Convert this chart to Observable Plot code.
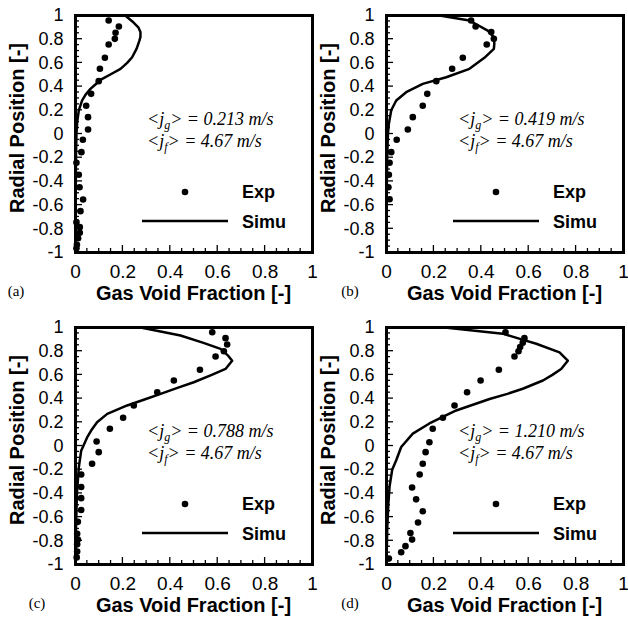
<!DOCTYPE html>
<html>
<head>
<meta charset="utf-8">
<script src="https://cdn.jsdelivr.net/npm/d3@7"></script>
<script src="https://cdn.jsdelivr.net/npm/@observablehq/plot@0.6"></script>
<style>
  html, body { margin: 0; padding: 0; background: #fff; }
  #fig { position: relative; width: 628px; height: 621px; background: #fff; overflow: hidden; }
  #fig > div { position: absolute; }
  #fig svg { background: transparent !important; overflow: visible; }
</style>
</head>
<body>
<div id="fig"></div>
<script>
// ---------- tick labels ----------
const xTickValues = [0, 0.2, 0.4, 0.6, 0.8, 1];
const xTickLabels = ["0", "0.2", "0.4", "0.6", "0.8", "1"];
const yTickValues = [-1, -0.8, -0.6, -0.4, -0.2, 0, 0.2, 0.4, 0.6, 0.8, 1];
const yTickLabels = ["-1", "-0.8", "-0.6", "-0.4", "-0.2", "0", "0.2", "0.4", "0.6", "0.8", "1"];

// ---------- panel meta ----------
const panelLetters = ["(a)", "(b)", "(c)", "(d)"];
const jgValues = ["0.213", "0.419", "0.788", "1.210"];
const jfValues = ["4.67", "4.67", "4.67", "4.67"];

// ---------- (a) ----------
const aExpY = [0.958, 0.907, 0.854, 0.803, 0.755, 0.643, 0.55, 0.446, 0.339, 0.238, 0.142, 0.038, -0.049, -0.153, -0.243, -0.344, -0.449, -0.553, -0.651, -0.744, -0.786, -0.833, -0.88, -0.935, -0.965];
const aExpX = [0.14, 0.183, 0.169, 0.166, 0.14, 0.124, 0.103, 0.098, 0.066, 0.045, 0.053, 0.053, 0.031, 0.025, 0.004, 0.014, 0.017, 0.032, 0.021, 0.004, 0.018, 0.018, 0.011, 0.006, 0.004];
const aSimY = [1.0, 0.95, 0.9, 0.86, 0.82, 0.79, 0.72, 0.648, 0.6, 0.55, 0.5, 0.466, 0.42, 0.381, 0.33, 0.283, 0.2, 0.1, 0.0, -0.2, -0.5, -1.0];
const aSimX = [0.21, 0.24, 0.265, 0.274, 0.274, 0.27, 0.258, 0.239, 0.218, 0.19, 0.145, 0.113, 0.085, 0.063, 0.042, 0.028, 0.014, 0.007, 0.004, 0.002, 0.001, 0.0];

// ---------- (b) ----------
const bExpY = [0.958, 0.907, 0.86, 0.803, 0.755, 0.643, 0.55, 0.446, 0.339, 0.238, 0.142, 0.038, -0.049, -0.153, -0.243, -0.344, -0.449, -0.55];
const bExpX = [0.357, 0.376, 0.442, 0.453, 0.423, 0.322, 0.277, 0.21, 0.172, 0.153, 0.111, 0.09, 0.043, 0.02, 0.013, 0.01, 0.008, 0.013];
const bSimY = [1.0, 0.958, 0.873, 0.817, 0.76, 0.719, 0.643, 0.55, 0.479, 0.423, 0.353, 0.283, 0.2, 0.086, 0.0, -0.2, -0.5, -1.0];
const bSimX = [0.224, 0.35, 0.427, 0.453, 0.455, 0.453, 0.413, 0.35, 0.252, 0.153, 0.083, 0.041, 0.02, 0.01, 0.006, 0.003, 0.001, 0.0];

// ---------- (c) ----------
const cExpY = [0.96, 0.91, 0.857, 0.8, 0.755, 0.643, 0.553, 0.454, 0.342, 0.238, 0.145, 0.038, -0.052, -0.15, -0.24, -0.346, -0.44, -0.54, -0.64, -0.74, -0.79, -0.83, -0.89, -0.94];
const cExpX = [0.577, 0.633, 0.64, 0.626, 0.591, 0.525, 0.415, 0.345, 0.246, 0.201, 0.145, 0.089, 0.098, 0.07, 0.024, 0.024, 0.024, 0.024, 0.01, 0.007, 0.01, 0.007, 0.007, 0.005];
const cSimY = [1.0, 0.932, 0.87, 0.82, 0.76, 0.72, 0.65, 0.6, 0.538, 0.49, 0.44, 0.39, 0.342, 0.271, 0.2, 0.13, 0.072, -0.04, -0.18, -0.4, -0.7, -1.0];
const cSimX = [0.275, 0.443, 0.54, 0.612, 0.645, 0.661, 0.633, 0.575, 0.499, 0.43, 0.359, 0.288, 0.218, 0.134, 0.091, 0.066, 0.049, 0.024, 0.014, 0.006, 0.002, 0.0];

// ---------- (d) ----------
const dExpY = [0.96, 0.91, 0.872, 0.836, 0.8, 0.755, 0.643, 0.553, 0.454, 0.342, 0.238, 0.145, 0.032, -0.052, -0.15, -0.24, -0.35, -0.45, -0.55, -0.646, -0.735, -0.79, -0.845, -0.896, -0.95];
const dExpX = [0.502, 0.582, 0.575, 0.564, 0.557, 0.54, 0.474, 0.397, 0.34, 0.287, 0.238, 0.195, 0.181, 0.165, 0.153, 0.14, 0.108, 0.125, 0.153, 0.133, 0.101, 0.108, 0.08, 0.062, 0.01];
const dSimY = [1.0, 0.948, 0.9, 0.863, 0.79, 0.72, 0.65, 0.6, 0.553, 0.483, 0.44, 0.397, 0.3, 0.19, 0.105, -0.008, -0.12, -0.2, -0.34, -0.48, -0.7, -1.0];
const dSimX = [0.245, 0.491, 0.57, 0.632, 0.73, 0.765, 0.737, 0.70, 0.66, 0.575, 0.51, 0.435, 0.294, 0.181, 0.111, 0.062, 0.041, 0.024, 0.013, 0.008, 0.003, 0.0];

const expX = [aExpX, bExpX, cExpX, dExpX];
const expY = [aExpY, bExpY, cExpY, dExpY];
const simX = [aSimX, bSimX, cSimX, dSimX];
const simY = [aSimY, bSimY, cSimY, dSimY];

// ---------- layout ----------
const W = 314, H = 310;
const ML = 75, MR = 2, MT = 15, MB = 58;
const offsets = [[0, 0], [311, 0], [0, 312], [311, 312]];
const letterX = [16, 39, 37, 39];
const sans = "'Liberation Sans', Arial, Helvetica, sans-serif";
const serif = "'Liberation Serif', 'Times New Roman', serif";

const fig = document.getElementById("fig");

function fmtX(d) { const i = xTickValues.findIndex(v => Math.abs(v - d) < 1e-9); return i >= 0 ? xTickLabels[i] : ""; }
function fmtY(d) { const i = yTickValues.findIndex(v => Math.abs(v - d) < 1e-9); return i >= 0 ? yTickLabels[i] : ""; }

for (let p = 0; p < 4; p++) {
  const exp = expX[p].map((x, i) => ({x, y: expY[p][i]}));
  const sim = simX[p].map((x, i) => ({x, y: simY[p][i]}));

  const plot = Plot.plot({
    width: W, height: H,
    marginLeft: ML, marginRight: MR, marginTop: MT, marginBottom: MB,
    x: {domain: [0, 1]},
    y: {domain: [-1, 1]},
    style: {fontFamily: sans, fontSize: "19px", color: "black", background: "transparent", overflow: "visible"},
    marks: [
      Plot.line(sim, {x: "x", y: "y", stroke: "black", strokeWidth: 2.5, strokeLinejoin: "round"}),
      Plot.dot(exp, {x: "x", y: "y", r: 3.3, fill: "black", stroke: "none"}),
      Plot.axisX({ticks: xTickValues, tickFormat: fmtX, tickSize: 0, tickPadding: 12, label: null, fontSize: 19}),
      Plot.axisY({ticks: yTickValues, tickFormat: fmtY, tickSize: 0, tickPadding: 12, label: null, fontSize: 18}),
      Plot.frame({stroke: "black", strokeWidth: 3})
    ]
  });

  const sx = plot.scale("x"), sy = plot.scale("y");
  const svg = d3.select(plot.tagName === "svg" ? plot : plot.querySelector("svg"));
  const x0 = sx.apply(0), y0 = sy.apply(-1);

  // inward ticks (bottom and left)
  const tg = svg.append("g").attr("stroke", "black").attr("stroke-width", 1.3);
  for (let k = 1; k < 20; k++) {
    const v = k * 0.05, major = k % 4 === 0;
    const px = sx.apply(v);
    tg.append("line").attr("x1", px).attr("x2", px).attr("y1", y0).attr("y2", y0 - (major ? 7 : 4));
  }
  for (let k = 1; k < 40; k++) {
    const v = -1 + k * 0.05, major = k % 4 === 0;
    const py = sy.apply(v);
    tg.append("line").attr("x1", x0).attr("x2", x0 + (major ? 7 : 4)).attr("y1", py).attr("y2", py);
  }

  const txt = () => svg.append("text").attr("fill", "black").attr("text-anchor", "start");

  // axis labels
  txt().attr("x", (ML + W - MR) / 2).attr("y", 300)
    .attr("text-anchor", "middle").attr("font-family", sans).attr("font-weight", "bold").attr("font-size", 20)
    .text("Gas Void Fraction [-]");
  txt().attr("transform", "translate(24,128) rotate(-90)")
    .attr("text-anchor", "middle").attr("font-family", sans).attr("font-weight", "bold").attr("font-size", 20)
    .text("Radial Position [-]");
  // panel letter
  txt().attr("x", letterX[p]).attr("y", 296).attr("text-anchor", "middle")
    .attr("font-family", serif).attr("font-size", 15).text(panelLetters[p]);

  // annotation
  const ann = (y, sub, val) => {
    const t = txt().attr("x", 147).attr("y", y).attr("font-family", serif)
      .attr("font-style", "italic").attr("font-size", 18);
    t.append("tspan").text("<j");
    t.append("tspan").attr("font-size", 12).attr("dy", 4).text(sub);
    t.append("tspan").attr("dy", -4).text("> = " + val + " m/s");
  };
  ann(125, "g", jgValues[p]);
  ann(147, "f", jfValues[p]);

  // legend
  svg.append("circle").attr("cx", 185).attr("cy", 192).attr("r", 3.3).attr("fill", "black");
  txt().attr("x", 242).attr("y", 198).attr("font-family", sans).attr("font-weight", "bold")
    .attr("font-size", 18).text("Exp");
  svg.append("line").attr("x1", 142).attr("x2", 228).attr("y1", 221).attr("y2", 221)
    .attr("stroke", "black").attr("stroke-width", 2.5);
  txt().attr("x", 242).attr("y", 228).attr("font-family", sans).attr("font-weight", "bold")
    .attr("font-size", 18).text("Simu");

  const wrap = document.createElement("div");
  wrap.style.left = offsets[p][0] + "px";
  wrap.style.top = offsets[p][1] + "px";
  wrap.appendChild(plot);
  fig.appendChild(wrap);
}
</script>
</body>
</html>
